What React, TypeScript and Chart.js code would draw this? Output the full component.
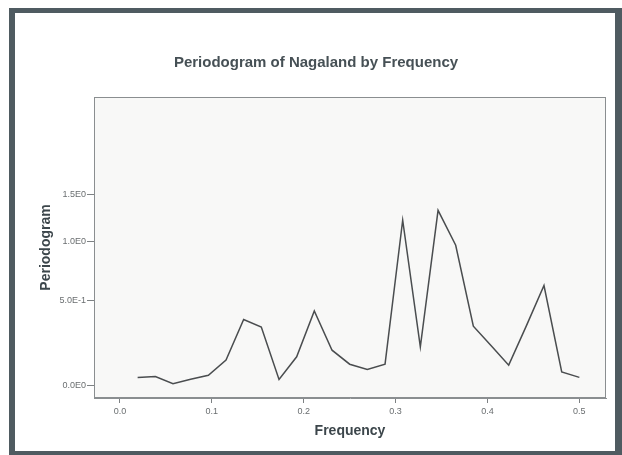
import React, { useEffect, useRef } from "react";
import { Chart, registerables, LinearScale } from "chart.js";

// ---- data ----
const frequencies = [
  0.0192, 0.0385, 0.0577, 0.0769, 0.0962, 0.1154, 0.1346, 0.1538, 0.1731,
  0.1923, 0.2115, 0.2308, 0.25, 0.2692, 0.2885, 0.3077, 0.3269, 0.3462,
  0.3654, 0.3846, 0.4038, 0.4231, 0.4423, 0.4615, 0.4808, 0.5,
];
const periodogram = [
  0.038, 0.042, 0.007, 0.029, 0.049, 0.128, 0.371, 0.323, 0.028, 0.146,
  0.429, 0.183, 0.106, 0.078, 0.106, 1.211, 0.202, 1.319, 0.96, 0.328,
  0.21, 0.101, 0.33, 0.615, 0.066, 0.038,
];
const xTickValues = [0, 0.1, 0.2, 0.3, 0.4, 0.5];
const xTickLabels = ["0.0", "0.1", "0.2", "0.3", "0.4", "0.5"];
const yTickValues = [0, 0.5, 1.0, 1.5];
const yTickLabels = ["0.0E0", "5.0E-1", "1.0E0", "1.5E0"];

const chartTitle = "Periodogram of Nagaland by Frequency";
const xTitle = "Frequency";
const yTitle = "Periodogram";

// ---- custom log(1+x) scale ----
class Log1pScale extends LinearScale {
  static id = "log1p";
  static defaults = { ...(LinearScale as any).defaults };
  getPixelForValue(value: number) {
    if (value === null || value === undefined) return NaN;
    const a = Math.log1p((this as any).min);
    const b = Math.log1p((this as any).max);
    return this.getPixelForDecimal((Math.log1p(value) - a) / (b - a));
  }
  getValueForPixel(pixel: number) {
    const a = Math.log1p((this as any).min);
    const b = Math.log1p((this as any).max);
    return Math.expm1(a + this.getDecimalForPixel(pixel) * (b - a));
  }
}

Chart.register(...registerables, Log1pScale as any);

const FONT = "'Liberation Sans', Arial, Helvetica, sans-serif";

const decorPlugin = {
  id: "decor",
  beforeDraw(chart: any) {
    const { ctx, chartArea } = chart;
    const { left, top, right, bottom } = chartArea;
    ctx.save();
    ctx.fillStyle = "#f8f8f7";
    ctx.fillRect(left, top, right - left, bottom - top);
    ctx.restore();
  },
  afterDraw(chart: any) {
    const { ctx, chartArea } = chart;
    const { left, top, right, bottom } = chartArea;
    ctx.save();
    ctx.strokeStyle = "#8a8e90";
    ctx.lineWidth = 1;
    ctx.strokeRect(left + 0.5, top + 0.5, right - left - 1, bottom - top - 1);
    ctx.fillStyle = "#465055";
    ctx.font = `bold 15px ${FONT}`;
    ctx.textAlign = "center";
    ctx.textBaseline = "middle";
    ctx.fillText(chartTitle, 316, 63);
    ctx.restore();
  },
};

export default function App() {
  const canvasRef = useRef<HTMLCanvasElement | null>(null);

  useEffect(() => {
    const canvas = canvasRef.current;
    if (!canvas) return;
    const points = frequencies.map((f, i) => ({ x: f, y: periodogram[i] }));
    const chart = new Chart(canvas, {
      type: "line",
      data: {
        datasets: [
          {
            data: points,
            borderColor: "#4a4d4f",
            borderWidth: 1.5,
            pointRadius: 0,
            fill: false,
            tension: 0,
          },
        ],
      },
      options: {
        animation: false,
        responsive: false,
        devicePixelRatio: 1,
        layout: { padding: { left: 0, top: 97, right: 16, bottom: 0 } },
        plugins: {
          legend: { display: false },
          tooltip: { enabled: false },
          title: { display: false },
        },
        scales: {
          x: {
            type: "linear",
            min: -0.0283,
            max: 0.529,
            afterBuildTicks: (scale: any) => {
              scale.ticks = xTickValues.map((value) => ({ value }));
            },
            afterFit: (scale: any) => {
              scale.height = 57;
            },
            ticks: {
              autoSkip: false,
              maxRotation: 0,
              padding: 3,
              color: "#6a6e70",
              font: { family: FONT, size: 9 },
              callback: (_v: any, i: number) => xTickLabels[i],
            },
            grid: {
              drawOnChartArea: false,
              drawTicks: true,
              tickLength: 5,
              color: "#7d8183",
            },
            border: { display: true, color: "#8a8e90", width: 1 },
            title: {
              display: true,
              text: xTitle,
              color: "#3c464b",
              font: { family: FONT, size: 14, weight: "bold" },
              padding: { top: 0, bottom: 15 },
            },
          },
          y: {
            type: "log1p" as any,
            min: -0.06,
            max: 3.0,
            afterBuildTicks: (scale: any) => {
              scale.ticks = yTickValues.map((value) => ({ value }));
            },
            afterFit: (scale: any) => {
              scale.width = 94;
            },
            ticks: {
              autoSkip: false,
              padding: 1,
              color: "#6a6e70",
              font: { family: FONT, size: 9 },
              callback: (_v: any, i: number) => yTickLabels[i],
            },
            grid: {
              drawOnChartArea: false,
              drawTicks: true,
              tickLength: 7,
              color: "#7d8183",
            },
            border: { display: true, color: "#8a8e90", width: 1 },
            title: {
              display: true,
              text: yTitle,
              color: "#3c464b",
              font: { family: FONT, size: 14, weight: "bold" },
              padding: { top: 38, bottom: 0 },
            },
          },
        },
      } as any,
      plugins: [decorPlugin],
    });
    return () => chart.destroy();
  }, []);

  return (
    <div
      style={{
        position: "absolute",
        left: 0,
        top: 0,
        width: 622,
        height: 455,
        overflow: "hidden",
        background: "#ffffff",
      }}
    >
      <div
        style={{
          position: "absolute",
          left: 9,
          top: 8,
          width: 613,
          height: 447,
          boxSizing: "border-box",
          borderStyle: "solid",
          borderColor: "#4f5b61",
          borderLeftWidth: 6,
          borderTopWidth: 5,
          borderRightWidth: 7,
          borderBottomWidth: 4,
          background: "#ffffff",
        }}
      />
      <canvas
        ref={canvasRef}
        width={622}
        height={455}
        style={{ position: "absolute", left: 0, top: 0, width: 622, height: 455 }}
      />
    </div>
  );
}
